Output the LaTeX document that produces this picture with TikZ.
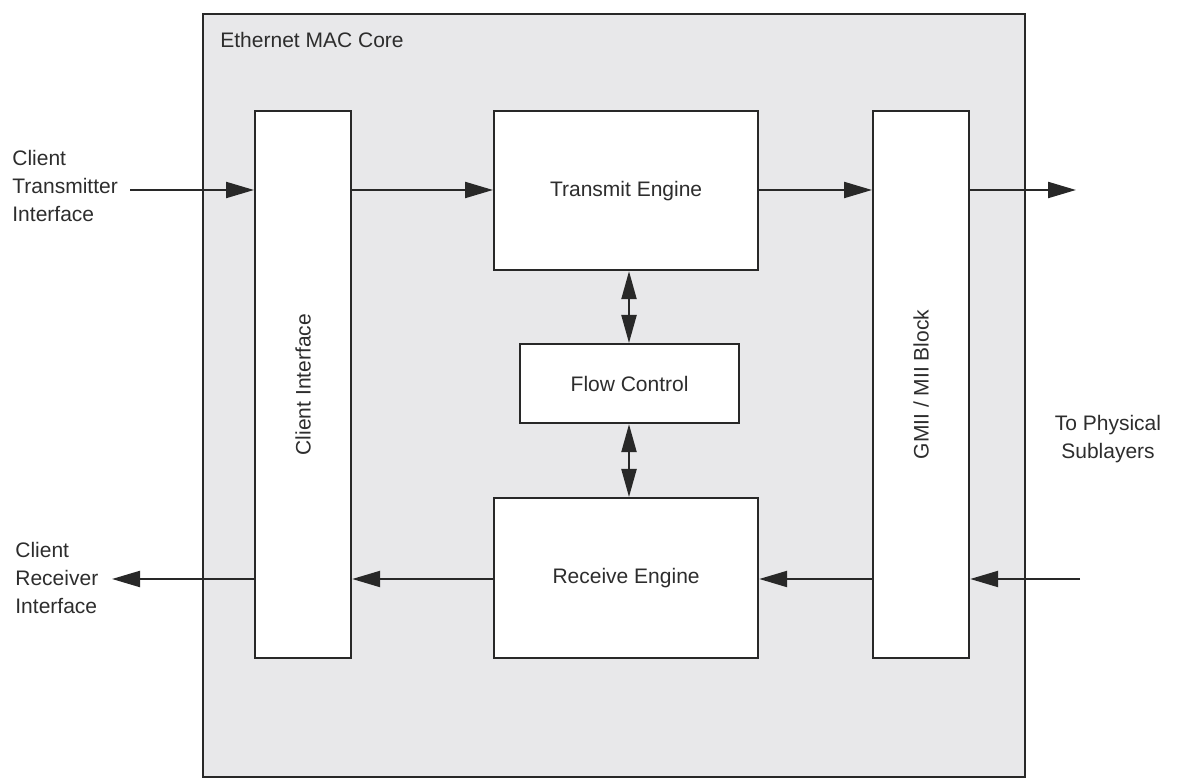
\documentclass[tikz,border=0pt]{standalone}
\usepackage{fontspec}
\setmainfont{Liberation Sans}
\usetikzlibrary{arrows.meta}
\definecolor{coregrey}{RGB}{232,232,234}
\definecolor{linegrey}{RGB}{40,40,40}
\definecolor{textgrey}{RGB}{45,45,45}
\begin{document}
\begin{tikzpicture}[x=0.5pt,y=-0.5pt,
  every node/.style={font=\fontsize{10.5pt}{14pt}\selectfont,text=textgrey},
  blockbox/.style={draw=linegrey,line width=1.1pt,fill=white,inner sep=0pt,anchor=north west},
  flowarrow/.style={draw=linegrey,line width=1.1pt,-{Triangle[length=14pt,width=8pt]}},
  botharrow/.style={draw=linegrey,line width=1.1pt,{Triangle[length=14pt,width=7.5pt]}-{Triangle[length=14pt,width=7.5pt]}},
  lbl/.style={align=left,inner sep=0pt}]
\useasboundingbox (0,0) rectangle (1178,779);
% core
\node[draw=linegrey,line width=1.1pt,fill=coregrey,inner sep=0pt,anchor=north west,
  minimum width=822*0.5pt,minimum height=763*0.5pt] (core) at (202,13) {};
\node[anchor=west,inner sep=0pt] (coretitle) at (220,40) {Ethernet MAC Core};
% blocks
\node[blockbox,minimum width=96*0.5pt,minimum height=547*0.5pt] (ci) at (254,110) {};
\node[rotate=90] (citext) at (ci.center) {Client Interface};
\node[blockbox,minimum width=264*0.5pt,minimum height=159*0.5pt] (tx) at (493,110) {};
\node (txtext) at (tx.center) {Transmit Engine};
\node[blockbox,minimum width=219*0.5pt,minimum height=79*0.5pt] (fc) at (519,343) {};
\node (fctext) at (fc.center) {Flow Control};
\node[blockbox,minimum width=264*0.5pt,minimum height=160*0.5pt] (rx) at (493,497) {};
\node (rxtext) at (rx.center) {Receive Engine};
\node[blockbox,minimum width=96*0.5pt,minimum height=547*0.5pt] (gm) at (872,110) {};
\node[rotate=90] (gmtext) at (gm.center) {GMII / MII Block};
% external labels
\node[lbl,anchor=north west] (ctx) at (12,150) {Client\\Transmitter\\Interface};
\node[lbl,anchor=north west] (crx) at (15,542) {Client\\Receiver\\Interface};
\node[align=center,inner sep=0pt] (phy) at (1108,439) {To Physical\\Sublayers};
% free ends
\coordinate (txin) at (130,190);
\coordinate (txout) at (1076,190);
\coordinate (rxin) at (1080,579);
\coordinate (rxout) at (112,579);
% arrows
\draw[flowarrow] (txin) -- (txin -| ci.west);
\draw[flowarrow] (ci.east |- txin) -- (tx.west |- txin);
\draw[flowarrow] (tx.east |- txin) -- (gm.west |- txin);
\draw[flowarrow] (gm.east |- txin) -- (txout);
\draw[flowarrow] (rxin) -- (rxin -| gm.east);
\draw[flowarrow] (gm.west |- rxin) -- (rx.east |- rxin);
\draw[flowarrow] (rx.west |- rxin) -- (ci.east |- rxin);
\draw[flowarrow] (ci.west |- rxin) -- (rxout);
\draw[botharrow] ([xshift=68pt]tx.south west) -- ([xshift=68pt]tx.south west |- fc.north);
\draw[botharrow] ([xshift=68pt]rx.north west |- fc.south) -- ([xshift=68pt]rx.north west);
\end{tikzpicture}
\end{document}
